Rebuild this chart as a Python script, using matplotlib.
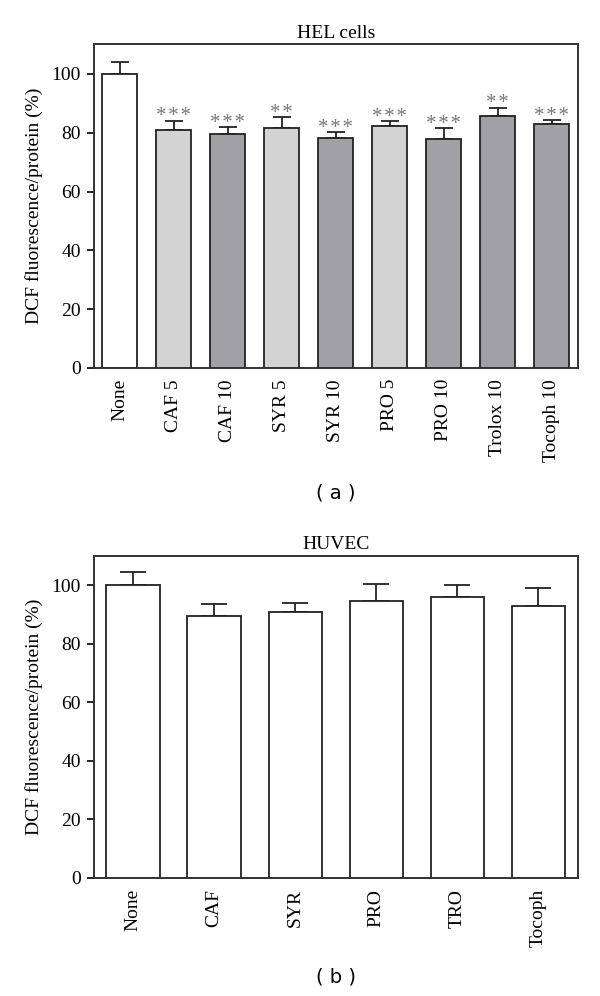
import matplotlib
matplotlib.use('Agg')
import matplotlib.pyplot as plt
import numpy as np

plt.rc('font', family='Liberation Serif', size=14)

# panel (a) HEL cells
labels_a = ['None', 'CAF 5', 'CAF 10', 'SYR 5', 'SYR 10', 'PRO 5', 'PRO 10', 'Trolox 10', 'Tocoph 10']
means_a = [100.0, 81.0, 79.6, 81.5, 78.3, 82.3, 77.7, 85.8, 83.0]
err_a = [3.9, 3.1, 2.2, 3.7, 1.8, 1.7, 3.8, 2.7, 1.2]
stars_a = ['', '***', '***', '**', '***', '***', '***', '**', '***']
colors_a = ['white', '#d3d3d3', '#a1a0a4', '#d3d3d3', '#a1a0a4', '#d3d3d3', '#a1a0a4', '#a1a0a4', '#a1a0a4']

# panel (b) HUVEC
labels_b = ['None', 'CAF', 'SYR', 'PRO', 'TRO', 'Tocoph']
means_b = [100.0, 89.4, 91.0, 94.7, 96.1, 93.0]
err_b = [4.6, 4.1, 3.0, 5.6, 4.0, 6.2]

W, H = 600, 996
fig = plt.figure(figsize=(6, 9.96), dpi=100)
ax1 = fig.add_axes([93.5/W, 1-368/H, (578-93.5)/W, (368-44.5)/H])
ax2 = fig.add_axes([93.5/W, 1-877.7/H, (578-93.5)/W, (877.7-556)/H])

def panel(ax, labels, means, err, colors, width, capsize, title):
    x = np.arange(len(labels))
    ax.bar(x, means, width=width, color=colors, edgecolor='#222222', linewidth=1.3, zorder=2)
    ax.errorbar(x, means, yerr=[np.zeros(len(err)), err], fmt='none', ecolor='#222222',
                elinewidth=1.3, capsize=capsize, capthick=1.3, zorder=1)
    ax.set_xlim(-0.49, len(labels) - 0.51)
    ax.set_ylim(0, 110)
    ax.set_yticks(np.arange(0, 101, 20))
    ax.set_xticks(x)
    ax.set_xticklabels(labels, rotation=90)
    ax.tick_params(axis='x', length=0, pad=8)
    ax.tick_params(axis='y', direction='out', length=5, width=1.2, pad=4)
    for s in ax.spines.values():
        s.set_linewidth(1.4)
        s.set_color('#333333')
    ax.set_ylabel('DCF fluorescence/protein (%)', labelpad=6)
    ax.set_title(title, fontsize=14, pad=5)
    return x

x = panel(ax1, labels_a, means_a, err_a, colors_a, 0.65, 6.5, 'HEL cells')
for xi, m, e, s in zip(x, means_a, err_a, stars_a):
    if s:
        ax1.annotate('\u200a'.join(s), (xi, m + e), xytext=(0, -4), textcoords='offset points',
                     ha='center', va='bottom', fontsize=15, color='#777777')

panel(ax2, labels_b, means_b, err_b, ['white'] * len(labels_b), 0.66, 9.7, 'HUVEC')

fig.text(336/W, 1-493/H, '( a )', ha='center', va='center', fontsize=14, family='DejaVu Sans')
fig.text(336/W, 1-977/H, '( b )', ha='center', va='center', fontsize=14, family='DejaVu Sans')

fig.savefig('out.png', dpi=100)
